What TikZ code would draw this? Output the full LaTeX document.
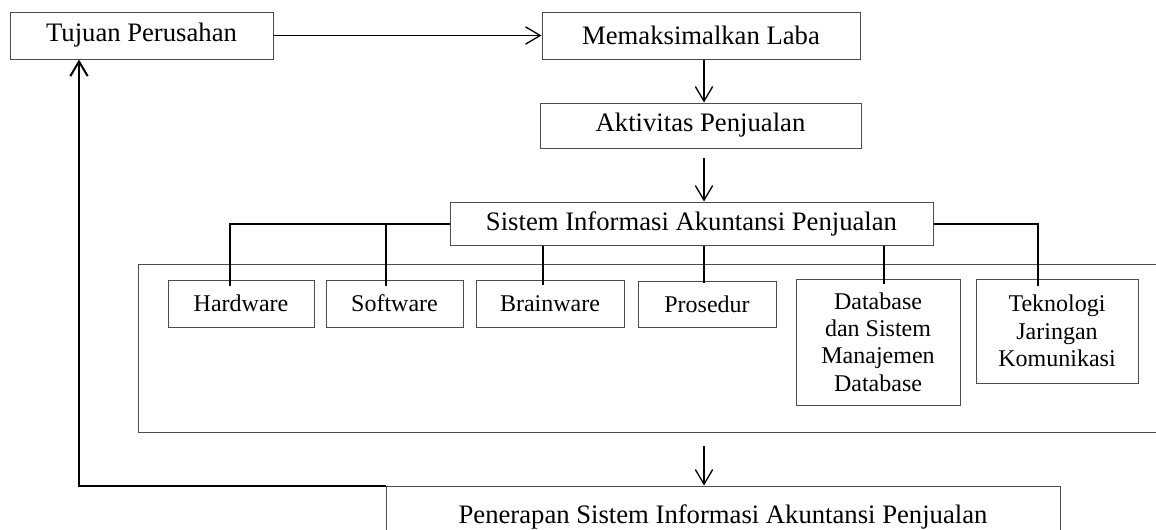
\documentclass[tikz,border=0pt]{standalone}
\usepackage{fontspec}
\setmainfont{Liberation Serif}
\usetikzlibrary{arrows.meta,calc}
\begin{document}
\begin{tikzpicture}[x=0.75pt,y=-0.75pt,
  box/.style={draw=black!70,line width=0.75pt,inner sep=0pt,align=center,font=\fontsize{20}{24}\selectfont},
  sbox/.style={box,font=\fontsize{18}{20.6}\selectfont},
  sz/.style 2 args={minimum width=#1*0.75pt,minimum height=#2*0.75pt},
  arr/.style={draw=black,line width=1pt,-{Straight Barb[length=11pt,width=13pt]}},
  conn/.style={draw=black,line width=1.5pt},
  fb/.style={conn,-{Straight Barb[length=11pt,width=13pt]}}]
\useasboundingbox (0,0) rectangle (1156,529);
\clip (0,0) rectangle (1156,529);
% main boxes
\node[box,sz={263}{47}] (tujuan) at (141.5,35.5) {Tujuan Perusahan};
\node[box,sz={318}{47}] (laba) at (701,35.5) {Memaksimalkan Laba};
\node[box,sz={321}{45}] (akt) at (700.5,125.5) {Aktivitas Penjualan};
\node[box,sz={483}{43}] (sistem) at (691.5,223.5) {Sistem Informasi Akuntansi Penjualan};
% container
\node[box,sz={1052}{168}] (group) at (664,348) {};
% components
\node[sbox,sz={146}{47}] (hard) at (241,303.5) {Hardware};
\node[sbox,sz={137}{47}] (soft) at (394.5,303.5) {Software};
\node[sbox,sz={148}{47}] (brain) at (550,303.5) {Brainware};
\node[sbox,sz={138}{46}] (pros) at (707,304) {Prosedur};
\node[sbox,sz={164}{126}] (db) at (878,342) {Database\\dan Sistem\\Manajemen\\Database};
\node[sbox,sz={162}{104}] (tek) at (1057,331) {Teknologi\\Jaringan\\Komunikasi};
% bottom box
\node[box,sz={674}{62}] (bottom) at (723,517) {Penerapan Sistem Informasi Akuntansi Penjualan};
% x positions of connectors
\coordinate (xh) at (230,0);
\coordinate (xs) at (386,0);
\coordinate (xb) at (543,0);
\coordinate (xp) at (704,0);
\coordinate (xd) at (884,0);
\coordinate (xt) at (1038,0);
\coordinate (xa) at (704,0);
\coordinate (xf) at (79,0);
% branch connectors
\draw[conn] (sistem.west) -| ($(hard.north -| xh)+(0,6)$);
\draw[conn] (sistem.west -| xs) -- ($(soft.north -| xs)+(0,6)$);
\draw[conn] (sistem.south -| xb) -- ($(brain.north -| xb)+(0,5)$);
\draw[conn] (sistem.south -| xp) -- ($(pros.north -| xp)+(0,2)$);
\draw[conn] (sistem.south -| xd) -- ($(db.north -| xd)+(0,5)$);
\draw[conn] (sistem.east) -| ($(tek.north -| xt)+(0,7)$);
% arrows
\draw[arr] (tujuan.east) -- (laba.west);
\draw[arr] (laba.south -| xa) -- (akt.north -| xa);
\draw[arr] ($(akt.south -| xa)+(0,9)$) -- (sistem.north -| xa);
\draw[arr] ($(group.south -| xa)+(0,13)$) -- (bottom.north -| xa);
\draw[fb] (bottom.north west) -| (tujuan.south -| xf);
\end{tikzpicture}
\end{document}
